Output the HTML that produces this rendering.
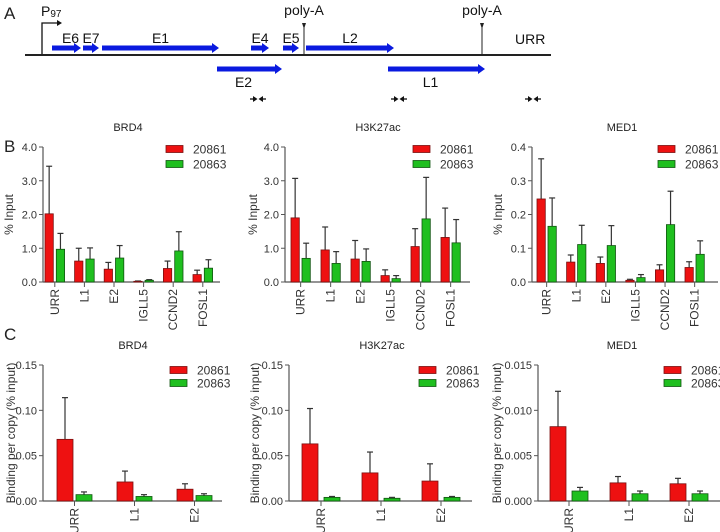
<!DOCTYPE html>
<html><head><meta charset="utf-8">
<style>
html,body{margin:0;padding:0;background:#fff;}
svg{display:block;font-family:"Liberation Sans",Arial,sans-serif;}
</style></head>
<body>
<svg id="fig" width="720" height="532" viewBox="0 0 720 532">
  <g>
    <text x="4" y="19" font-size="17" fill="#222">A</text>
    <text x="41" y="16" font-size="14" fill="#111">P<tspan font-size="10" dy="1">97</tspan></text>
    <path d="M42 55 V23 H58" stroke="#111" stroke-width="1.3" fill="none"/>
    <path d="M57 20 L62 23 L57 26 Z" fill="#111"/>
    <line x1="25" y1="55" x2="551" y2="55" stroke="#222" stroke-width="2"/>
    <line x1="304" y1="25" x2="304" y2="55" stroke="#222" stroke-width="1"/>
    <path d="M302 23 L306 23 L304 29 Z" fill="#222"/>
    <line x1="482" y1="25" x2="482" y2="55" stroke="#222" stroke-width="1"/>
    <path d="M480 23 L484 23 L482 29 Z" fill="#222"/>
    <text x="304" y="15" font-size="14" text-anchor="middle" fill="#111">poly-A</text>
    <text x="482" y="15" font-size="14" text-anchor="middle" fill="#111">poly-A</text>
    <g id="genes"></g>
    <text x="515" y="44" font-size="14" fill="#111">URR</text>
    <g id="primers"></g>
  </g>
  <text x="4" y="152" font-size="17" fill="#222">B</text>
  <text x="4" y="340" font-size="17" fill="#222">C</text>
  <g id="charts"></g>
</svg>
<script>
const NS='http://www.w3.org/2000/svg';
function mk(tag,attrs,parent){const e=document.createElementNS(NS,tag);for(const k in attrs)e.setAttribute(k,attrs[k]);if(parent)parent.appendChild(e);return e;}

const geneNames=['E6','E7','E1','E4','E5','L2','E2','L1'];
const geneStart=[52,83,102,251,283,306,217,388];
const geneEnd=[81,99,219,269,299,394,282,485];
const geneRow=[0,0,0,0,0,0,1,1];
const genesG=document.getElementById('genes');
geneNames.forEach((n,i)=>{
  const y=geneRow[i]?69:48, x0=geneStart[i], x1=geneEnd[i];
  const p=mk('path',{d:`M${x0} ${y-2.5} H${x1-7} V${y-5} L${x1} ${y} L${x1-7} ${y+5} V${y+2.5} H${x0} Z`,fill:'#0a1adf'},genesG);
  
  
  const t=mk('text',{x:(geneRow[i]?(x0+x1)/2-6:(x0+x1)/2+(n==='E6'?4:0)),y:geneRow[i]?87:43,'font-size':14,'text-anchor':'middle',fill:'#111'},genesG);
  t.textContent=n;
  
  
});
const primerX=[258,399,533];
const pg=document.getElementById('primers');
primerX.forEach((x,i)=>{
  const g=mk('g',{},pg);
  
  
  mk('line',{x1:x-8,y1:99,x2:x-3,y2:99,stroke:'#111','stroke-width':1.3},g);
  mk('path',{d:`M${x-5} 96 L${x-0.5} 99 L${x-5} 102 Z`,fill:'#111'},g);
  mk('line',{x1:x+3,y1:99,x2:x+8,y2:99,stroke:'#111','stroke-width':1.3},g);
  mk('path',{d:`M${x+5} 96 L${x+0.5} 99 L${x+5} 102 Z`,fill:'#111'},g);
});

const catsB=['URR','L1','E2','IGLL5','CCND2','FOSL1'];
const catsC=['URR','L1','E2'];
const seriesNames=['20861','20863'];
const brd4B_red=[2.02,0.62,0.38,0.02,0.40,0.22];
const brd4B_redErr=[3.43,1.00,0.58,0.03,0.62,0.35];
const brd4B_green=[0.97,0.68,0.71,0.05,0.92,0.41];
const brd4B_greenErr=[1.44,1.01,1.08,0.07,1.49,0.66];
const h3B_red=[1.90,0.95,0.68,0.19,1.05,1.32];
const h3B_redErr=[3.07,1.63,1.23,0.36,1.58,2.19];
const h3B_green=[0.70,0.55,0.61,0.10,1.87,1.16];
const h3B_greenErr=[1.15,0.90,0.98,0.19,3.10,1.85];
const medB_red=[0.246,0.059,0.055,0.005,0.036,0.043];
const medB_redErr=[0.365,0.080,0.074,0.008,0.051,0.060];
const medB_green=[0.165,0.111,0.108,0.013,0.170,0.082];
const medB_greenErr=[0.249,0.168,0.167,0.022,0.269,0.122];
const brd4C_red=[0.068,0.021,0.013];
const brd4C_redErr=[0.114,0.033,0.019];
const brd4C_green=[0.007,0.005,0.006];
const brd4C_greenErr=[0.010,0.007,0.008];
const h3C_red=[0.063,0.031,0.022];
const h3C_redErr=[0.102,0.054,0.041];
const h3C_green=[0.004,0.003,0.004];
const h3C_greenErr=[0.005,0.004,0.005];
const medC_red=[0.0082,0.0020,0.0019];
const medC_redErr=[0.0121,0.0027,0.0025];
const medC_green=[0.0011,0.0008,0.0008];
const medC_greenErr=[0.0015,0.0011,0.0011];
const ticksB1=['0.0','1.0','2.0','3.0','4.0'];
const ticksB3=['0.0','0.1','0.2','0.3','0.4'];
const ticksC1=['0.00','0.05','0.10','0.15'];
const ticksC3=['0.000','0.005','0.010','0.015'];

const charts=[
 {id:'b-brd4',title:'BRD4',tx:128,ty:131,ax:43,axEnd:220,top:147,base:282,first:45,bw:8.3,gap:3,step:29.6,cats:catsB,red:brd4B_red,redE:brd4B_redErr,green:brd4B_green,greenE:brd4B_greenErr,ticks:ticksB1,ytitle:'% Input',ytx:9,lx:166,ly:149,lsp:15},
 {id:'b-h3k27ac',title:'H3K27ac',tx:378,ty:131,ax:285,axEnd:470,top:147,base:282,first:291,bw:8.3,gap:2.7,step:30,cats:catsB,red:h3B_red,redE:h3B_redErr,green:h3B_green,greenE:h3B_greenErr,ticks:ticksB1,ytitle:'% Input',ytx:253,lx:413,ly:149,lsp:15},
 {id:'b-med1',title:'MED1',tx:622,ty:131,ax:532,axEnd:718,top:147,base:282,first:537,bw:8.3,gap:2.7,step:29.6,cats:catsB,red:medB_red,redE:medB_redErr,green:medB_green,greenE:medB_greenErr,ticks:ticksB3,ytitle:'% Input',ytx:498,lx:658,ly:149,lsp:15},
 {id:'c-brd4',title:'BRD4',tx:133,ty:349,ax:43,axEnd:222,top:365,base:501,first:57,bw:16,gap:3,step:60,cats:catsC,red:brd4C_red,redE:brd4C_redErr,green:brd4C_green,greenE:brd4C_greenErr,ticks:ticksC1,ytitle:'Binding per copy (% input)',ytx:11,lx:170,ly:370,lsp:13},
 {id:'c-h3k27ac',title:'H3K27ac',tx:382,ty:349,ax:289,axEnd:472,top:365,base:501,first:302,bw:16,gap:6,step:60,cats:catsC,red:h3C_red,redE:h3C_redErr,green:h3C_green,greenE:h3C_greenErr,ticks:ticksC1,ytitle:'Binding per copy (% input)',ytx:255,lx:419,ly:370,lsp:13},
 {id:'c-med1',title:'MED1',tx:622,ty:349,ax:538,axEnd:720,top:365,base:501,first:550,bw:16,gap:6,step:60,cats:catsC,red:medC_red,redE:medC_redErr,green:medC_green,greenE:medC_greenErr,ticks:ticksC3,ytitle:'Binding per copy (% input)',ytx:497,lx:664,ly:370,lsp:13},
];
const root=document.getElementById('charts');
const AX='#555';
charts.forEach(c=>{
  const g=mk('g',{},root);
  
  
  const ymax=parseFloat(c.ticks[c.ticks.length-1]);
  const y=v=>c.base-(v/ymax)*(c.base-c.top);
  const t=mk('text',{x:c.tx,y:c.ty,'font-size':11,'text-anchor':'middle',fill:'#222'},g);
  t.textContent=c.title;
  
  
  const ya=mk('line',{x1:c.ax,y1:c.top,x2:c.ax,y2:c.base,stroke:AX,'stroke-width':1.2},g);
  
  
  c.ticks.forEach(tl=>{
    const v=parseFloat(tl), yy=y(v);
    mk('line',{x1:c.ax-4,y1:yy,x2:c.ax,y2:yy,stroke:AX,'stroke-width':1},g);
    const tt=mk('text',{x:c.ax-6,y:yy+4,'font-size':11,'text-anchor':'end',fill:'#333'},g);
    tt.textContent=tl;
    
    
  });
  const midY=(c.top+c.base)/2;
  const yt=mk('text',{x:c.ytx,y:midY,'font-size':12,'text-anchor':'middle',fill:'#333',transform:`rotate(-90 ${c.ytx} ${midY})`,'dominant-baseline':'central'},g);
  yt.textContent=c.ytitle;
  
  
  const xa=mk('line',{x1:c.ax,y1:c.base,x2:c.axEnd,y2:c.base,stroke:AX,'stroke-width':1.2},g);
  
  
  c.cats.forEach((cat,i)=>{
    const x0=c.first+i*c.step;
    const xr=x0, xg=x0+c.bw+c.gap;
    const cx=(xr+xg+c.bw)/2;
    [[c.red,c.redE,xr,'#ee1111','#7a1010','red'],[c.green,c.greenE,xg,'#1fbf1f','#115511','green']].forEach(s=>{
      const v=s[0][i], e=s[1][i], bx=s[2];
      const mid=bx+c.bw/2;
      const el=mk('line',{x1:mid,y1:y(e),x2:mid,y2:y(v),stroke:'#333','stroke-width':1.2},g);
      
      
      mk('line',{x1:mid-3,y1:y(e),x2:mid+3,y2:y(e),stroke:'#333','stroke-width':1.2},g);
      const r=mk('rect',{x:bx,y:y(v),width:c.bw,height:Math.max(0.5,c.base-y(v)),fill:s[3],stroke:s[4],'stroke-width':0.8},g);
      
      
    });
    mk('line',{x1:cx,y1:c.base,x2:cx,y2:c.base+5,stroke:AX,'stroke-width':1},g);
    const lx=cx+4, ly=c.base+7;
    const xl=mk('text',{x:lx,y:ly,'font-size':12,'text-anchor':'end',fill:'#333',transform:`rotate(-90 ${lx} ${ly})`},g);
    xl.textContent=cat;
    
    
  });
  seriesNames.forEach((n,i)=>{
    const lg=mk('g',{},g);
    
    
    const yy=c.ly+i*c.lsp;
    mk('rect',{x:c.lx,y:yy-3.5,width:17,height:7,fill:i?'#1fbf1f':'#ee1111',stroke:i?'#115511':'#7a1010','stroke-width':0.8},lg);
    const lt=mk('text',{x:c.lx+27,y:yy+4.5,'font-size':12,fill:'#333'},lg);
    lt.textContent=n;
  });
});
</script>
</body></html>
